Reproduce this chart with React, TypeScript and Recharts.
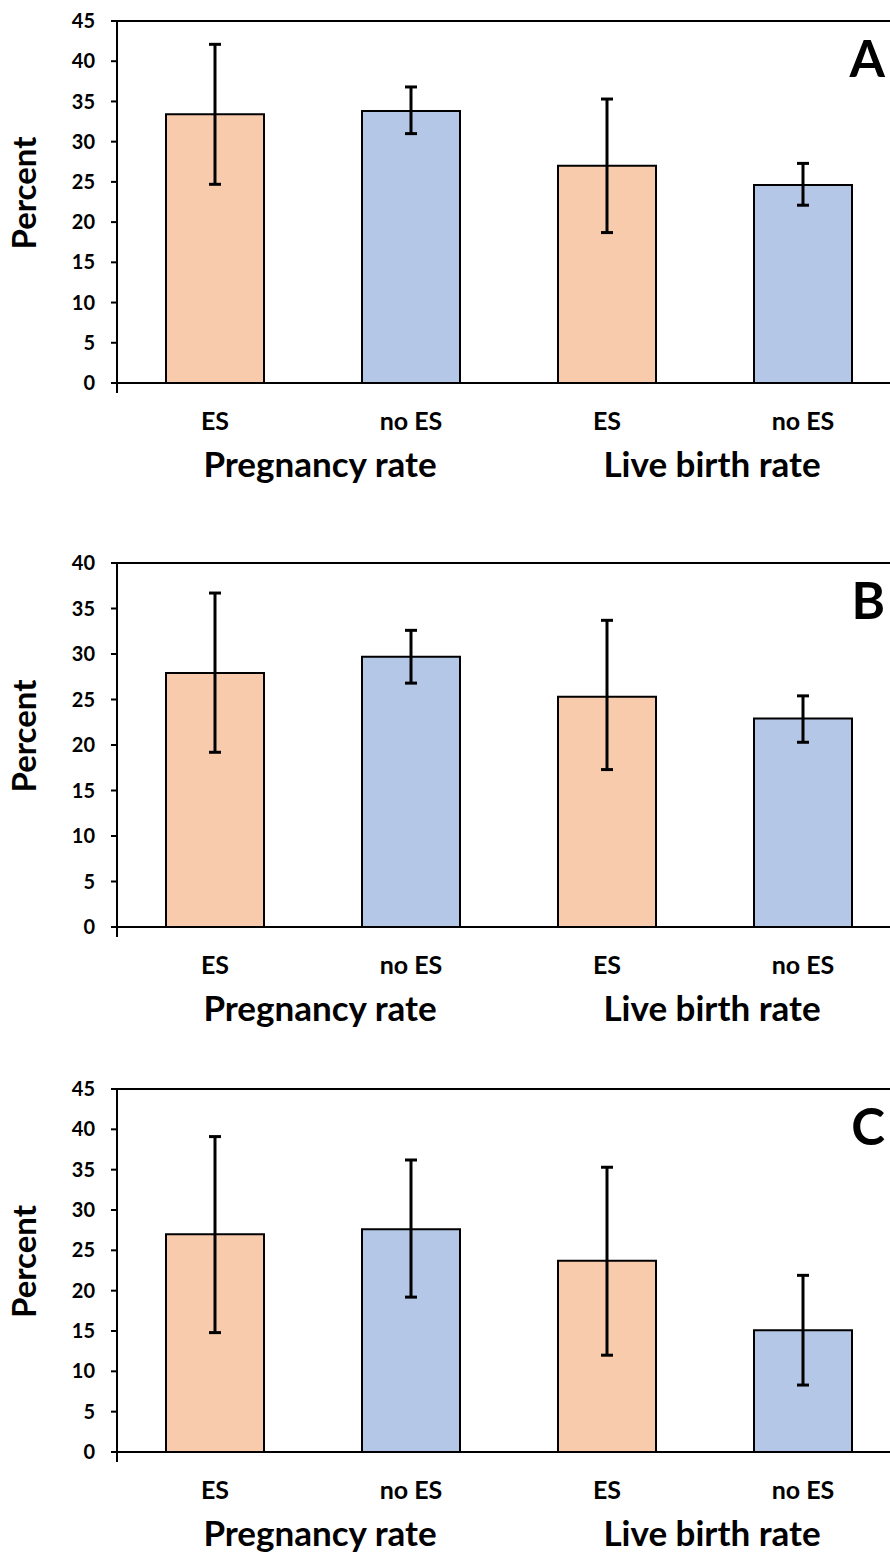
import React from "react";
import {
  BarChart,
  Bar,
  Cell,
  XAxis,
  YAxis,
  ErrorBar,
  ReferenceLine,
} from "recharts";

// categories and group labels
const categories = ["ES", "no ES", "ES", "no ES"];
const groups = ["Pregnancy rate", "Live birth rate"];

// panel A
const valuesA = [33.4, 33.8, 27.0, 24.6];
const errorsA = [[8.7, 8.7], [2.8, 3.0], [8.3, 8.3], [2.5, 2.7]];
const ticksA = [0, 5, 10, 15, 20, 25, 30, 35, 40, 45];

// panel B
const valuesB = [27.9, 29.7, 25.3, 22.9];
const errorsB = [[8.7, 8.8], [2.9, 2.9], [8.0, 8.4], [2.6, 2.5]];
const ticksB = [0, 5, 10, 15, 20, 25, 30, 35, 40];

// panel C
const valuesC = [27.0, 27.6, 23.7, 15.1];
const errorsC = [[12.2, 12.1], [8.4, 8.6], [11.7, 11.6], [6.8, 6.8]];
const ticksC = [0, 5, 10, 15, 20, 25, 30, 35, 40, 45];

const FILLS = ["#F8CBAD", "#B4C7E7", "#F8CBAD", "#B4C7E7"];
const FONT = "Lato, 'Open Sans', sans-serif";

const CHART_W = 901;
const YAXIS_W = 117;
const TOP = 21;
const BOTTOM = 110;
const BAND = (CHART_W - YAXIS_W) / categories.length;

function CategoryTick(props: any) {
  const { x, y, index } = props;
  return (
    <g>
      {index === 0 && (
        <line
          x1={x - BAND / 2}
          y1={y}
          x2={x - BAND / 2}
          y2={y + 10}
          stroke="#000"
          strokeWidth={2}
        />
      )}
      <text
        x={x}
        y={y + 47}
        textAnchor="middle"
        fontSize={25}
        fontWeight="bold"
        fontFamily={FONT}
        fill="#000"
      >
        {categories[index]}
      </text>
      {index % 2 === 1 && (
        <text
          x={x - BAND / 2 + 7}
          y={y + 94}
          textAnchor="middle"
          fontSize={35}
          fontWeight="bold"
          fontFamily={FONT}
          fill="#000"
        >
          {groups[(index - 1) / 2]}
        </text>
      )}
    </g>
  );
}

function PercentLabel(props: any) {
  const vb = props.viewBox || { x: 0, y: TOP, width: YAXIS_W, height: 360 };
  const cx = vb.x + 36;
  const cy = vb.y + vb.height / 2 - 9;
  return (
    <text
      x={cx}
      y={cy}
      transform={`rotate(-90, ${cx}, ${cy})`}
      textAnchor="middle"
      fontSize={33}
      fontWeight="bold"
      fontFamily={FONT}
      fill="#000"
    >
      Percent
    </text>
  );
}

function PanelLetter(props: any) {
  const vb = props.viewBox || { x: YAXIS_W, y: TOP, width: CHART_W - YAXIS_W };
  return (
    <text
      x={vb.x + vb.width - 16}
      y={vb.y + 56}
      textAnchor="end"
      fontSize={51}
      fontWeight="bold"
      fontFamily={FONT}
      fill="#000"
    >
      {props.letter}
    </text>
  );
}

function Panel({
  values,
  errors,
  ticks,
  letter,
  plotHeight,
  top,
}: {
  values: number[];
  errors: number[][];
  ticks: number[];
  letter: string;
  plotHeight: number;
  top: number;
}) {
  const data = categories.map((c, i) => ({
    key: `${i}-${c}`,
    value: values[i],
    err: errors[i],
  }));
  const max = ticks[ticks.length - 1];
  return (
    <div style={{ position: "absolute", left: 0, top }}>
      <BarChart
        width={CHART_W}
        height={TOP + plotHeight + BOTTOM}
        data={data}
        margin={{ top: TOP, right: 0, left: 0, bottom: 0 }}
        barCategoryGap="25%"
      >
        <XAxis
          dataKey="key"
          height={BOTTOM}
          axisLine={{ stroke: "#000", strokeWidth: 2 }}
          tickLine={false}
          tickSize={0}
          tickMargin={0}
          interval={0}
          tick={(p: any) => <CategoryTick {...p} />}
        />
        <YAxis
          width={YAXIS_W}
          domain={[0, max]}
          ticks={ticks}
          interval={0}
          axisLine={{ stroke: "#000", strokeWidth: 2 }}
          tickLine={{ stroke: "#000", strokeWidth: 2 }}
          tickSize={6}
          tickMargin={16}
          tick={{
            fill: "#000",
            fontSize: 20,
            fontWeight: "bold",
            fontFamily: FONT,
          }}
          label={<PercentLabel />}
        />
        <ReferenceLine
          y={max}
          stroke="#000"
          strokeWidth={2}
          label={<PanelLetter letter={letter} />}
        />
        <Bar
          dataKey="value"
          stroke="#000"
          strokeWidth={2}
          isAnimationActive={false}
        >
          {data.map((d, i) => (
            <Cell key={d.key} fill={FILLS[i]} />
          ))}
          <ErrorBar
            dataKey="err"
            direction="y"
            width={6}
            stroke="#000"
            strokeWidth={3}
            isAnimationActive={false}
          />
        </Bar>
      </BarChart>
    </div>
  );
}

export default function App() {
  return (
    <div
      style={{
        position: "absolute",
        left: 0,
        top: 0,
        width: 890,
        height: 1555,
        overflow: "hidden",
        background: "#fff",
      }}
    >
      <Panel values={valuesA} errors={errorsA} ticks={ticksA} letter="A" plotHeight={362} top={0} />
      <Panel values={valuesB} errors={errorsB} ticks={ticksB} letter="B" plotHeight={364} top={542} />
      <Panel values={valuesC} errors={errorsC} ticks={ticksC} letter="C" plotHeight={363} top={1068} />
    </div>
  );
}
